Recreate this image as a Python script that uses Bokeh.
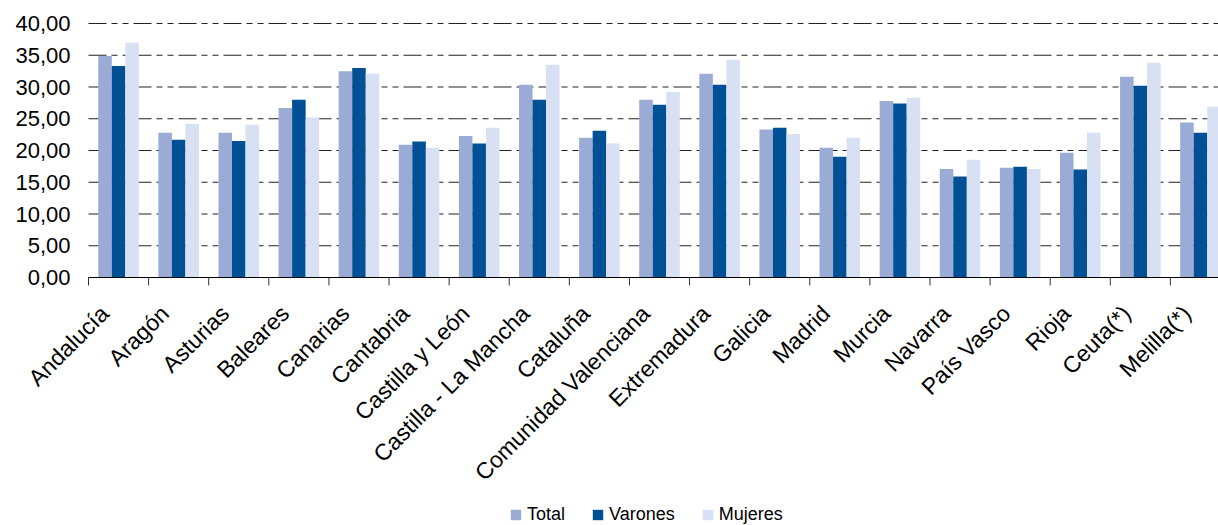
import math
from bokeh.plotting import figure
from bokeh.models import Range1d, ColumnDataSource, Legend
from bokeh.core.properties import value
from bokeh.transform import dodge
from bokeh.embed import file_html
from bokeh.resources import INLINE

categories = ["Andalucía", "Aragón", "Asturias", "Baleares", "Canarias", "Cantabria",
              "Castilla y León", "Castilla - La Mancha", "Cataluña", "Comunidad Valenciana",
              "Extremadura", "Galicia", "Madrid", "Murcia", "Navarra", "País Vasco", "Rioja",
              "Ceuta(*)", "Melilla(*)"]
total = [34.9, 22.8, 22.8, 26.7, 32.5, 20.9, 22.3, 30.35, 22.0, 28.0, 32.1, 23.3, 20.45,
         27.8, 17.1, 17.3, 19.65, 31.6, 24.4]
varones = [33.3, 21.7, 21.5, 28.0, 33.0, 21.4, 21.1, 28.0, 23.1, 27.2, 30.35, 23.6, 19.0,
           27.4, 15.9, 17.45, 17.0, 30.2, 22.8]
mujeres = [36.95, 24.2, 24.05, 25.2, 32.1, 20.45, 23.6, 33.5, 21.1, 29.2, 34.3, 22.6, 22.0,
           28.3, 18.55, 17.1, 22.8, 33.8, 26.9]
y_ticks = [0, 5, 10, 15, 20, 25, 30, 35, 40]
y_tick_labels = ["0,00", "5,00", "10,00", "15,00", "20,00", "25,00", "30,00", "35,00", "40,00"]
series_names = ["Total", "Varones", "Mujeres"]
colors = ["#9AACD6", "#005096", "#D8E0F3"]

FONT = "Liberation Sans"
n = len(categories)
centers = [i + 0.5 for i in range(n)]
boundaries = list(range(n + 1))

W, H = 1218, 525
PLOT_LEFT, PLOT_TOP, PLOT_BOTTOM = 88, 23, 277
X_END = 18.8
PX_X = (W - PLOT_LEFT) / X_END
PX_Y = (PLOT_BOTTOM - PLOT_TOP) / 40.0
X_START = -PLOT_LEFT / PX_X
Y_END = 40 + PLOT_TOP / PX_Y
Y_START = Y_END - H / PX_Y
LABEL_DX = -0.23
LABEL_DY = -32 / PX_Y
YLAB_X = -18 / PX_X
TICK_LEN = 8 / PX_Y

source = ColumnDataSource(dict(x=centers, total=total, varones=varones, mujeres=mujeres,
                               name=categories))
ysrc = ColumnDataSource(dict(y=y_ticks, lab=y_tick_labels))
bsrc = ColumnDataSource(dict(b=boundaries))

p = figure(frame_width=W, frame_height=H, x_range=Range1d(X_START, X_END),
           y_range=Range1d(Y_START, Y_END), output_backend="svg", toolbar_location=None,
           x_axis_location=None, y_axis_location=None,
           min_border_left=0, min_border_right=0, min_border_top=0, min_border_bottom=0)
p.outline_line_color = None
p.xgrid.visible = False
p.ygrid.visible = False

# dashed value gridlines
p.segment(x0=0, x1=X_END, y0="y", y1="y", source=ysrc, line_color="#222222",
          line_width=1, line_dash="18 5 6 5 6 5", level="underlay")

bw = 0.225
renderers = []
for off, field, col in zip([-bw, 0, bw], ["total", "varones", "mujeres"], colors):
    r = p.vbar(x=dodge("x", off, range=p.x_range), top=field, bottom=0, width=bw,
               source=source, fill_color=col, line_color=None)
    renderers.append(r)

# category axis: line at zero and boundary ticks pointing down
p.segment(x0=0, x1=X_END, y0=0, y1=0, line_color="black", line_width=1)
p.segment(x0="b", x1="b", y0=0, y1=-TICK_LEN, source=bsrc, line_color="#333333",
          line_width=1)

# value labels
p.text(x=YLAB_X, y="y", text="lab", source=ysrc, text_align="right",
       text_baseline="middle", text_font=value(FONT), text_font_size="22px",
       text_color="black")

# category labels (rotated)
p.text(x=dodge("x", LABEL_DX, range=p.x_range), y=LABEL_DY, text="name", source=source,
       angle=math.pi / 4, text_align="right", text_baseline="middle",
       text_font=value(FONT), text_font_size="23px", text_color="black")

legend = Legend(items=[(nm, [r]) for nm, r in zip(series_names, renderers)],
                orientation="horizontal", location=(509, 0))
legend.label_text_font = FONT
legend.label_text_font_size = "18px"
legend.label_text_color = "black"
legend.glyph_width = 13
legend.glyph_height = 13
legend.label_standoff = 5
legend.spacing = 26
legend.padding = 0
legend.margin = 0
legend.border_line_color = None
legend.background_fill_alpha = 0
p.add_layout(legend, "center")

open("out.html", "w").write(file_html(p, INLINE))
